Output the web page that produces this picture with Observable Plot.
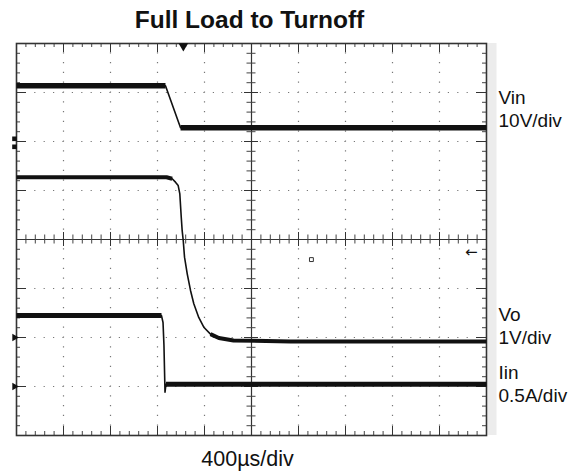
<!DOCTYPE html>
<html><head><meta charset="utf-8">
<script src="https://cdn.jsdelivr.net/npm/d3@7"></script>
<script src="https://cdn.jsdelivr.net/npm/@observablehq/plot@0.6"></script>
<style>
body{margin:0;background:#fff;}
#chart svg{display:block;}
</style></head><body><div id="chart"></div>
<script>
// ---- text ----
const chartTitle = "Full Load to Turnoff";
const timebaseLabel = "400µs/div";
const channelNames = ["Vin", "Vo", "Iin"];
const channelUnits = ["10V/div", "1V/div", "0.5A/div"];
// ---- scope settings ----
const usPerDiv = 400;
const unitsPerDiv = [10, 1, 0.5];
const groundDiv = [6, 2, 1];
// ---- traces (time in µs from screen left, values in V / A) ----
const vinTime  = [0, 1268, 1396, 4000];
const vinValue = [11.37, 11.37, 2.82, 2.82];
const voTime  = [0, 1277, 1325, 1353, 1376, 1390, 1402, 1410, 1419, 1430, 1453, 1481, 1509, 1551, 1594, 1651, 1722, 1847, 2332, 4000];
const voValue = [3.27, 3.27, 3.24, 3.17, 3.10, 2.93, 2.46, 2.18, 1.98, 1.64, 1.30, 0.96, 0.69, 0.41, 0.21, 0.07, -0.01, -0.06, -0.08, -0.08];
const iinTime  = [0, 1234, 1247, 1255, 1264, 1272, 4000];
const iinValue = [0.724, 0.724, 0.653, 0.418, -0.058, 0.023, 0.023];
// ---- scope markers ----
const triggerTime = [1420];
const triggerLevelVo = [1.75];
const cursorTime = [2510];
const cursorVo = [1.59];

// ---- layout (code, not data) ----
const W = 579, H = 473, mL = 16, mR = 93, mT = 43, mB = 38;
const fw = W - mL - mR, fh = H - mT - mB;
const xMax = usPerDiv * 10;
const innerMajorX = d3.range(1, 10).map(i => i * usPerDiv);
const minorX = d3.range(1, 50).filter(i => i % 5 !== 0).map(i => i * usPerDiv / 5);
const innerMajorY = d3.range(1, 8);
const minorY = d3.range(1, 40).filter(i => i % 5 !== 0).map(i => i / 5);
const thickW = [5.5, 4, 5];
const thinW = 1.6;

const traces = [[vinTime, vinValue], [voTime, voValue], [iinTime, iinValue]];
const pxPerUs = fw / xMax, pxPerDiv = fh / 8;
const rows = [];
let segId = 0;
traces.forEach(([T, V], c) => {
  const pts = T.map((t, i) => ({t, div: groundDiv[c] + V[i] / unitsPerDiv[c]}));
  let curKind = null;
  for (let i = 0; i < pts.length - 1; i++) {
    const a = pts[i], b = pts[i + 1];
    const slope = Math.abs((b.div - a.div) * pxPerDiv) / Math.max(1e-6, (b.t - a.t) * pxPerUs);
    const kind = slope < 0.5 ? "flat" : "edge";
    if (kind !== curKind) {
      segId++; curKind = kind;
      rows.push({ch: c, kind, seg: segId, t: a.t, div: a.div});
    }
    rows.push({ch: c, kind, seg: segId, t: b.t, div: b.div});
  }
});

const traceMarks = [];
channelNames.forEach((n, c) => {
  traceMarks.push(Plot.line(rows.filter(r => r.ch === c && r.kind === "edge"),
    {x: "t", y: "div", z: "seg", stroke: "#111", strokeWidth: thinW, strokeLinejoin: "round", strokeLinecap: "round", curve: "linear"}));
  traceMarks.push(Plot.line(rows.filter(r => r.ch === c && r.kind === "flat"),
    {x: "t", y: "div", z: "seg", stroke: "#111", strokeWidth: thickW[c], strokeLinejoin: "round", strokeLinecap: "butt", curve: "linear"}));
});

const lastBaseline = [126, 343.3, 401.7];

const chart = Plot.plot({
  width: W, height: H,
  marginLeft: mL, marginRight: mR, marginTop: mT, marginBottom: mB,
  x: {domain: [0, xMax], axis: null},
  y: {domain: [0, 8], axis: null},
  style: {fontFamily: "'Liberation Sans', Arial, Helvetica, sans-serif", background: "white", color: "#111"},
  marks: [
    Plot.ruleX([xMax], {dx: 5.5, stroke: "#ececec", strokeWidth: 9}),
    // dotted graticule
    Plot.ruleY(innerMajorY.filter(d => d !== 4), {stroke: "#777", strokeWidth: 1.2, strokeDasharray: `1.2 ${fw / 50 - 1.2}`, strokeDashoffset: 0.6}),
    Plot.ruleX(innerMajorX.filter(d => d !== xMax / 2), {stroke: "#777", strokeWidth: 1.2, strokeDasharray: `1.2 ${fh / 40 - 1.2}`, strokeDashoffset: 0.6}),
    // centre cross
    Plot.ruleX([xMax / 2], {stroke: "#333", strokeWidth: 1.2}),
    Plot.ruleY([4], {stroke: "#333", strokeWidth: 1.2}),
    Plot.ruleX(minorX, {insetTop: fh / 2 - 4.5, insetBottom: fh / 2 - 4.5, stroke: "#444"}),
    Plot.ruleY(minorY, {insetLeft: fw / 2 - 4.5, insetRight: fw / 2 - 4.5, stroke: "#444"}),
    Plot.ruleX(innerMajorX, {insetTop: fh / 2 - 7, insetBottom: fh / 2 - 7, stroke: "#333"}),
    Plot.ruleY(innerMajorY, {insetLeft: fw / 2 - 7, insetRight: fw / 2 - 7, stroke: "#333"}),
    // edge ticks
    Plot.ruleX(minorX, {insetBottom: fh - 4, stroke: "#444"}),
    Plot.ruleX(minorX, {insetTop: fh - 4, stroke: "#444"}),
    Plot.ruleY(minorY, {insetRight: fw - 4, stroke: "#444"}),
    Plot.ruleY(minorY, {insetLeft: fw - 4, stroke: "#444"}),
    Plot.ruleX(innerMajorX, {insetBottom: fh - 9, stroke: "#333"}),
    Plot.ruleX(innerMajorX, {insetTop: fh - 9, stroke: "#333"}),
    Plot.ruleY(innerMajorY, {insetRight: fw - 10, stroke: "#333"}),
    Plot.ruleY(innerMajorY, {insetLeft: fw - 10, stroke: "#333"}),
    Plot.frame({stroke: "#333", strokeWidth: 1.6}),
    // traces
    ...traceMarks,
    // markers
    Plot.dot(triggerTime, {x: d => d, frameAnchor: "top", dy: 2.5, symbol: "triangle", rotate: 180, r: 3.6, fill: "#111", stroke: "none"}),
    Plot.dot([1, 2], {y: i => groundDiv[i], frameAnchor: "left", dx: -2, symbol: "triangle", rotate: 90, r: 2.8, fill: "#111", stroke: "none"}),
    Plot.dot([0], {y: i => groundDiv[i], frameAnchor: "left", dx: -2, dy: -2.7, symbol: "square", r: 2.6, fill: "#111", stroke: "none"}),
    Plot.dot([0], {y: i => groundDiv[i], frameAnchor: "left", dx: -2, dy: 5.3, symbol: "square", r: 2.6, fill: "#111", stroke: "none"}),
    Plot.dot(cursorTime, {x: d => d, y: (d, i) => groundDiv[1] + cursorVo[i] / unitsPerDiv[1], symbol: "square", r: 2.2, fill: "white", stroke: "#333", strokeWidth: 1}),
    Plot.text(triggerLevelVo, {y: d => groundDiv[1] + d / unitsPerDiv[1], frameAnchor: "right", dx: -9, text: () => "←", fontSize: 15, fill: "#111", fontFamily: "DejaVu Sans"}),
    // texts
    Plot.text([chartTitle], {text: d => d, frameAnchor: "top", dy: -16, dx: -2, lineAnchor: "bottom", fontSize: 24.5, fontWeight: "bold", fill: "#111"}),
    Plot.text([timebaseLabel], {text: d => d, frameAnchor: "bottom", dy: 30.3, dx: -4, lineAnchor: "bottom", fontSize: 21.5, fill: "#111"}),
    ...channelNames.map((n, c) => Plot.text([n + "\n" + channelUnits[c]], {
      text: d => d, frameAnchor: "top-right", dx: 12, dy: lastBaseline[c] - mT,
      textAnchor: "start", lineAnchor: "bottom", lineHeight: 1.2, fontSize: 19, fill: "#111"}))
  ]
});
document.getElementById("chart").appendChild(chart);
</script></body></html>
